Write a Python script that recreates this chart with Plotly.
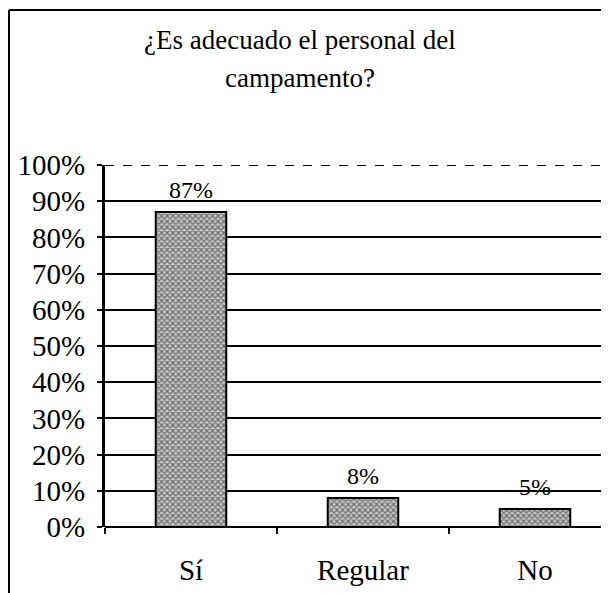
import plotly.graph_objects as go

categories = ["Sí", "Regular", "No"]
values = [87, 8, 5]
value_labels = ["87%", "8%", "5%"]
y_ticks = [0, 10, 20, 30, 40, 50, 60, 70, 80, 90, 100]
y_tick_labels = ["0%", "10%", "20%", "30%", "40%", "50%", "60%", "70%", "80%", "90%", "100%"]
title_lines = ["¿Es adecuado el personal del", "campamento?"]

OFF = 8  # page offset of the figure inside the window
W, H = 601, 585
AX_LEFT, Y100, Y0 = 105, 165, 527
ML = AX_LEFT - OFF
MT = Y100 - OFF
MB = H - (Y0 - OFF)
MR = 0
pw, ph = W - ML - MR, H - MT - MB

def px_x(x):
    return (x - OFF - ML) / pw

def px_y(y):
    return (H - MB - (y - OFF)) / ph

FONT = "Liberation Serif, Times New Roman, serif"

fig = go.Figure()
fig.add_trace(go.Bar(
    x=categories,
    y=values,
    width=0.41,
    marker=dict(
        color="#c8c8c8",
        line=dict(color="black", width=2),
        pattern=dict(shape="x", fgcolor="#111111", bgcolor="#c8c8c8", size=4, solidity=0.5),
    ),
))

# value labels above the bars
for c, v, t in zip(categories, values, value_labels):
    fig.add_annotation(x=c, y=v, text=t, showarrow=False, xanchor="center", yanchor="bottom",
                       yshift=7, font=dict(family=FONT, size=24, color="black"))

# title lines
for i, line in enumerate(title_lines):
    fig.add_annotation(xref="paper", yref="paper", x=px_x(300), y=px_y(40 + 38 * i),
                       xanchor="center", yanchor="middle", showarrow=False, text=line,
                       font=dict(family=FONT, size=27, color="black"))

fig.update_layout(
    width=W, height=H,
    margin=dict(l=ML, r=MR, t=MT, b=MB),
    paper_bgcolor="white",
    plot_bgcolor="white",
    showlegend=False,
    font=dict(family=FONT, color="black"),
    xaxis=dict(
        range=[-0.5, -0.5 + pw / 172],
        showline=False,
        ticks="outside", tickson="boundaries", ticklen=6, tickwidth=2, tickcolor="black",
        tickfont=dict(family=FONT, size=29, color="black"),
        ticklabelstandoff=23,
        showgrid=False,
        zeroline=False,
    ),
    yaxis=dict(
        range=[0, 100],
        tickvals=y_ticks,
        ticktext=y_tick_labels,
        ticks="outside", ticklen=5, tickwidth=2, tickcolor="black",
        tickfont=dict(family=FONT, size=29, color="black"),
        ticklabelstandoff=6,
        showline=True, linecolor="black", linewidth=3,
        showgrid=True, gridcolor="black", gridwidth=1.8,
        zeroline=True, zerolinecolor="black", zerolinewidth=2,
    ),
)

# top (100%) gridline looks dashed in the scan
fig.add_shape(type="line", xref="paper", yref="y", x0=0, x1=1, y0=100, y1=100,
              line=dict(color="white", width=2.5))
fig.add_shape(type="line", xref="paper", yref="y", x0=0, x1=1, y0=100, y1=100,
              line=dict(color="black", width=2, dash="dash"))

# outer chart border (left and top edges)
fig.add_shape(type="line", xref="paper", yref="paper",
              x0=px_x(9), x1=px_x(640), y0=px_y(10), y1=px_y(10),
              line=dict(color="black", width=2))
fig.add_shape(type="line", xref="paper", yref="paper",
              x0=px_x(9), x1=px_x(9), y0=px_y(10), y1=px_y(620),
              line=dict(color="black", width=2))

fig.write_html("out.html")
